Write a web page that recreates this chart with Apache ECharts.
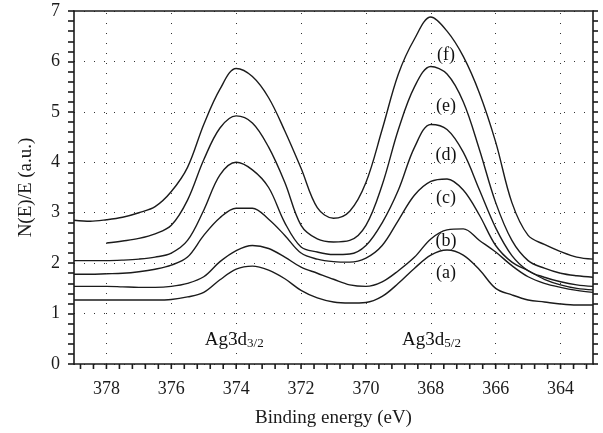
<!DOCTYPE html>
<html><head><meta charset="utf-8">
<script src="https://cdn.jsdelivr.net/npm/echarts@6/dist/echarts.min.js"></script>
<style>html,body{margin:0;padding:0;background:#fff}#c{width:603px;height:433px}</style>
</head><body><div id="c"></div>
<script>
// Binding energy (eV) sample positions
const energy = [379,378.5,378,377.5,377,376.5,376,375.5,375,374.5,374,373.5,373,372.5,372,371.5,371,370.5,370,369.5,369,368.5,368,367.5,367,366.5,366,365.5,365,364.5,364,363.5,363];
const curveA = [1.27,1.27,1.27,1.27,1.27,1.27,1.28,1.33,1.42,1.67,1.88,1.94,1.86,1.69,1.46,1.31,1.23,1.21,1.22,1.34,1.60,1.90,2.16,2.26,2.16,1.87,1.50,1.37,1.27,1.23,1.19,1.17,1.17];
const curveB = [1.54,1.54,1.54,1.53,1.52,1.52,1.54,1.60,1.73,2.03,2.25,2.35,2.29,2.12,1.92,1.80,1.68,1.57,1.54,1.63,1.85,2.12,2.48,2.66,2.68,2.45,2.22,1.95,1.73,1.60,1.52,1.46,1.42];
const curveC = [1.78,1.78,1.79,1.80,1.83,1.88,1.96,2.12,2.55,2.90,3.09,3.09,2.87,2.55,2.20,2.08,2.03,2.02,2.10,2.35,2.85,3.35,3.62,3.67,3.45,2.95,2.35,2.02,1.85,1.68,1.57,1.50,1.47];
const curveD = [2.05,2.05,2.05,2.06,2.08,2.12,2.20,2.45,3.05,3.75,4.00,3.85,3.50,2.80,2.32,2.22,2.17,2.18,2.35,2.80,3.45,4.30,4.75,4.65,4.20,3.45,2.70,2.15,1.85,1.72,1.63,1.57,1.54];
const curveE = [null,null,2.40,2.44,2.49,2.58,2.75,3.25,4.05,4.68,4.92,4.78,4.30,3.60,2.75,2.48,2.42,2.45,2.75,3.55,4.65,5.50,5.90,5.75,5.20,4.25,3.20,2.45,2.05,1.90,1.80,1.75,1.72];
const curveF = [2.85,2.83,2.86,2.91,3.00,3.12,3.42,3.90,4.75,5.45,5.86,5.70,5.28,4.62,3.88,3.10,2.89,3.03,3.60,4.65,5.75,6.45,6.88,6.60,6.10,5.37,4.40,3.20,2.55,2.37,2.23,2.12,2.08];

const xTickLabels = [364,366,368,370,372,374,376,378];
const xMinorStep = 0.4;
const yTickLabels = [0,1,2,3,4,5,6,7];

const curveNames = ['(a)','(b)','(c)','(d)','(e)','(f)'];
const curveLabelX = [367.53,367.53,367.53,367.53,367.53,367.53];
const curveLabelY = [1.80,2.43,3.29,4.14,5.11,6.12];
const peakNames = ['Ag3d{s|3/2}','Ag3d{s|5/2}'];
const peakLabelX = [374.06,367.98];
const peakLabelY = [0.20,0.20];

const FONT = 'Liberation Serif';
const INK = '#1b1b1b';

const allXTicks = [];
for (let k = -2; k <= 37; k++) {
  const v = Math.round((364 + k * xMinorStep) * 10) / 10;
  if (v > 363 && v < 379) allXTicks.push(v);
}

const curves = [curveA, curveB, curveC, curveD, curveE, curveF];
const lineSeries = curves.map((c, idx) => ({
  type: 'line',
  name: curveNames[idx],
  data: energy.map((x, i) => c[i] == null ? null : [x, c[i]]).filter(d => d),
  showSymbol: false,
  smooth: 0.35,
  lineStyle: { color: INK, width: 1.4 },
  silent: true,
  z: 3
}));

const dotted = { color: '#333', width: 1, type: [1, 9] };

const option = {
  animation: false,
  backgroundColor: '#fff',
  grid: { left: 74, right: 10, top: 11, bottom: 69, containLabel: false },
  xAxis: [
    {
      type: 'value', min: 363, max: 379, inverse: true, position: 'bottom',
      axisLine: { show: true, onZero: false, lineStyle: { color: INK, width: 1.6 } },
      axisTick: { show: false },
      axisLabel: { customValues: xTickLabels, fontFamily: FONT, fontSize: 18, color: INK, margin: 16 },
      splitLine: { show: false },
      name: 'Binding energy (eV)', nameLocation: 'middle', nameGap: 45,
      nameTextStyle: { fontFamily: FONT, fontSize: 19, color: INK }
    },
    {
      type: 'value', min: 363, max: 379, inverse: true, position: 'top',
      axisLine: { show: true, onZero: false, lineStyle: { color: INK, width: 1.6 } },
      axisTick: { show: false }, axisLabel: { show: false }, splitLine: { show: false }
    }
  ],
  yAxis: [
    {
      type: 'value', min: 0, max: 7, interval: 1, position: 'left',
      axisLine: { show: true, onZero: false, lineStyle: { color: INK, width: 1.6 } },
      axisTick: { show: true, inside: false, length: 6, lineStyle: { color: INK, width: 1.6 } },
      minorTick: { show: true, splitNumber: 5, length: 6, lineStyle: { color: INK, width: 1.6 } },
      axisLabel: { fontFamily: FONT, fontSize: 18, color: INK, margin: 14,
        formatter: v => yTickLabels.includes(v) ? String(v) : '' },
      splitLine: { show: true, lineStyle: dotted },
      name: 'N(E)/E (a.u.)', nameLocation: 'middle', nameGap: 38, nameRotate: 90,
      nameTextStyle: { fontFamily: FONT, fontSize: 19, color: INK }
    },
    {
      type: 'value', min: 0, max: 7, interval: 1, position: 'right',
      axisLine: { show: true, onZero: false, lineStyle: { color: INK, width: 1.6 } },
      axisTick: { show: true, inside: false, length: 5, lineStyle: { color: INK, width: 1.6 } },
      minorTick: { show: true, splitNumber: 5, length: 5, lineStyle: { color: INK, width: 1.6 } },
      axisLabel: { show: false }, splitLine: { show: false }
    }
  ],
  series: [
    {
      type: 'line', data: [], silent: true, z: 1,
      markLine: {
        silent: true, symbol: ['none', 'none'], label: { show: false },
        lineStyle: dotted, animation: false,
        data: xTickLabels.map(v => ({ xAxis: v }))
      }
    },
    {
      // bottom-axis tick marks (major + minor) placed through the x scale
      type: 'custom', silent: true, clip: false, z: 4,
      data: allXTicks.map(v => [v, 0]),
      renderItem: (params, api) => {
        const p = api.coord([api.value(0), 0]);
        return { type: 'line', shape: { x1: p[0], y1: p[1], x2: p[0], y2: p[1] + 5 },
          style: { stroke: INK, lineWidth: 1.6 } };
      }
    },
    ...lineSeries,
    {
      type: 'scatter', symbolSize: 0, silent: true, z: 5,
      itemStyle: { opacity: 1 },
      data: curveNames.map((n, i) => [curveLabelX[i], curveLabelY[i], n]),
      label: { show: true, position: 'inside', formatter: p => p.data[2], opacity: 1,
        fontFamily: FONT, fontSize: 18, color: '#111' }
    },
    {
      type: 'scatter', symbolSize: 0, silent: true, z: 5,
      itemStyle: { opacity: 1 },
      data: peakNames.map((n, i) => [peakLabelX[i], peakLabelY[i], n]),
      label: { show: true, position: 'inside', formatter: p => p.data[2], opacity: 1,
        rich: {
          s: { fontFamily: FONT, fontSize: 13, color: '#111', verticalAlign: 'bottom' }
        },
        fontFamily: FONT, fontSize: 19, color: '#111', padding: [0, 0, 4, 0], verticalAlign: 'bottom' }
    }
  ]
};

const chart = echarts.init(document.getElementById('c'), null, { renderer: 'canvas' });
chart.setOption(option);
</script>
</body></html>
